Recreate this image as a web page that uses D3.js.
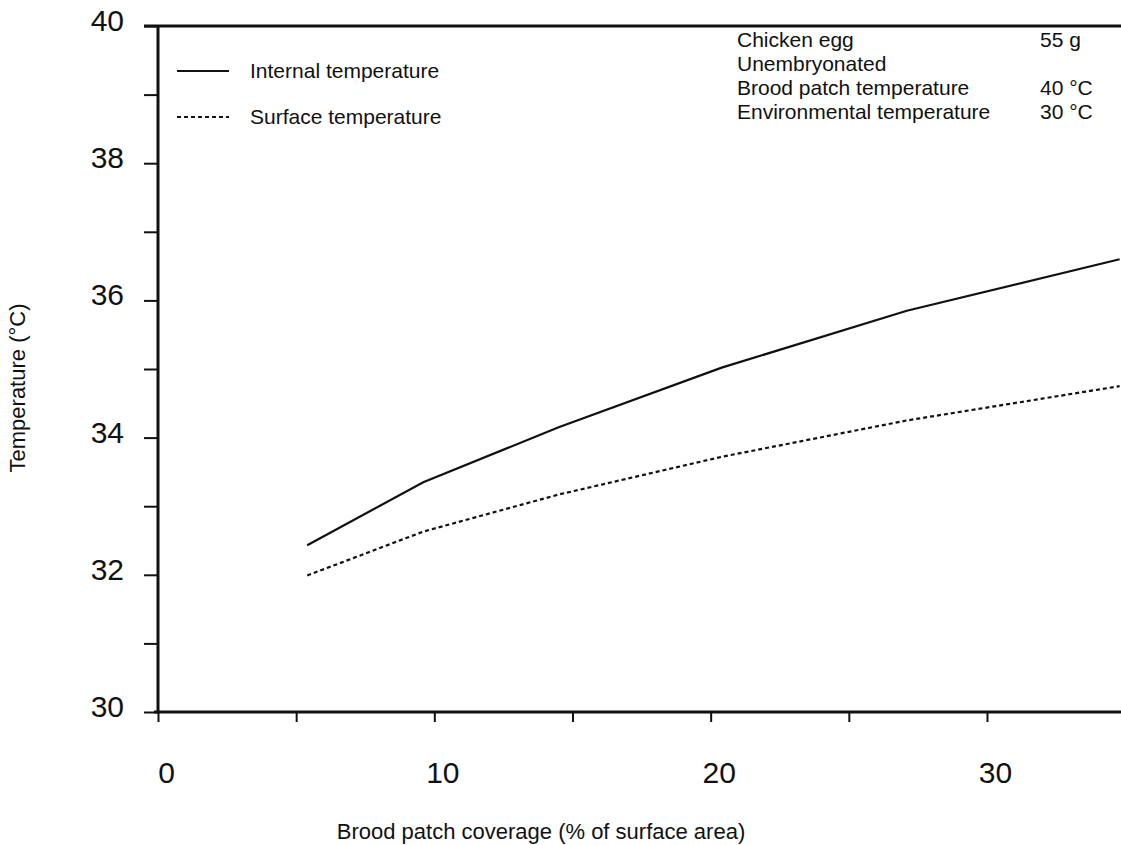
<!DOCTYPE html>
<html>
<head>
<meta charset="utf-8">
<script src="https://cdn.jsdelivr.net/npm/d3@7"></script>
<style>
  body { margin: 0; background: #fff; }
  svg { display: block; }
  .tick text { font-family: "Liberation Sans", Arial, sans-serif; font-size: 30px; fill: #111; }
  .lbl { font-family: "Liberation Sans", Arial, sans-serif; font-size: 21px; fill: #111; }
  .title { font-size: 22px; }
</style>
</head>
<body>
<div id="app"></div>
<script>
// data
const coverage = [5.4, 9.6, 14.5, 20.4, 27.1, 34.8];
const internalTemp = [32.43, 33.35, 34.15, 35.02, 35.85, 36.6];
const surfaceTemp = [31.99, 32.63, 33.17, 33.72, 34.25, 34.75];

const xTicks = [0, 5, 10, 15, 20, 25, 30];
const yTicks = [30, 31, 32, 33, 34, 35, 36, 37, 38, 39, 40];

const infoLeft = ["Chicken egg", "Unembryonated", "Brood patch temperature", "Environmental temperature"];
const infoRight = ["55 g", "", "40 °C", "30 °C"];

const W = 1121, H = 845;
const margin = {top: 26, right: 0, bottom: 133, left: 158};

const svg = d3.select("#app")
  .append("svg")
    .attr("width", W)
    .attr("height", H);

const x = d3.scaleLinear()
  .domain([0, 34.85])
  .range([margin.left, W - margin.right]);

const y = d3.scaleLinear()
  .domain([30, 40])
  .range([H - margin.bottom, margin.top]);

// y axis
const yAxis = svg.append("g")
  .attr("transform", "translate(" + x(0) + ",0)")
  .call(d3.axisLeft(y)
    .tickValues(yTicks)
    .tickSize(14)
    .tickPadding(20)
    .tickFormat(d => d % 2 === 0 ? d : ""));
yAxis.select(".domain").remove();
yAxis.selectAll(".tick line").attr("stroke", "#111").attr("stroke-width", 2);
yAxis.selectAll(".tick text").attr("dy", "0.15em");

// x axis
const xAxis = svg.append("g")
  .attr("transform", "translate(0," + y(30) + ")")
  .call(d3.axisBottom(x)
    .tickValues(xTicks)
    .tickSize(10)
    .tickPadding(40)
    .tickFormat(d => d % 10 === 0 ? d : ""));
xAxis.select(".domain").remove();
xAxis.selectAll(".tick line").attr("stroke", "#111").attr("stroke-width", 2);
xAxis.selectAll(".tick text").attr("dx", 8);

// frame: left, bottom, top
svg.append("line")
  .attr("x1", x(0)).attr("x2", x(0))
  .attr("y1", y(40)).attr("y2", y(30))
  .attr("stroke", "#111").attr("stroke-width", 3);
svg.append("line")
  .attr("x1", x(0) - 4).attr("x2", W)
  .attr("y1", y(30)).attr("y2", y(30))
  .attr("stroke", "#111").attr("stroke-width", 3);
svg.append("line")
  .attr("x1", x(0) - 14).attr("x2", W)
  .attr("y1", y(40)).attr("y2", y(40))
  .attr("stroke", "#111").attr("stroke-width", 3);

// curves
const line = d3.line()
  .x(d => x(d[0]))
  .y(d => y(d[1]));

svg.append("path")
  .datum(coverage.map((c, i) => [c, internalTemp[i]]))
  .attr("d", line)
  .attr("fill", "none")
  .attr("stroke", "#111")
  .attr("stroke-width", 2.2);

svg.append("path")
  .datum(coverage.map((c, i) => [c, surfaceTemp[i]]))
  .attr("d", line)
  .attr("fill", "none")
  .attr("stroke", "#111")
  .attr("stroke-width", 2.2)
  .attr("stroke-dasharray", "4,3");

// legend
const legend = svg.append("g");
[["Internal temperature", null, 71], ["Surface temperature", "4,3", 117]].forEach(l => {
  legend.append("line")
    .attr("x1", 177).attr("x2", 229)
    .attr("y1", l[2]).attr("y2", l[2])
    .attr("stroke", "#111").attr("stroke-width", 2)
    .attr("stroke-dasharray", l[1]);
  legend.append("text")
    .attr("class", "lbl")
    .attr("x", 250).attr("y", l[2])
    .attr("dy", "0.35em")
    .text(l[0]);
});

// info block
infoLeft.forEach((t, i) => {
  svg.append("text").attr("class", "lbl")
    .attr("x", 737).attr("y", 47 + i * 24).text(t);
  svg.append("text").attr("class", "lbl")
    .attr("x", 1040).attr("y", 47 + i * 24).text(infoRight[i]);
});

// axis titles
svg.append("text").attr("class", "lbl title")
  .attr("x", 541).attr("y", 839)
  .attr("text-anchor", "middle")
  .text("Brood patch coverage (% of surface area)");

svg.append("text").attr("class", "lbl title")
  .attr("transform", "translate(25,388) rotate(-90)")
  .attr("text-anchor", "middle")
  .text("Temperature (°C)");
</script>
</body>
</html>
